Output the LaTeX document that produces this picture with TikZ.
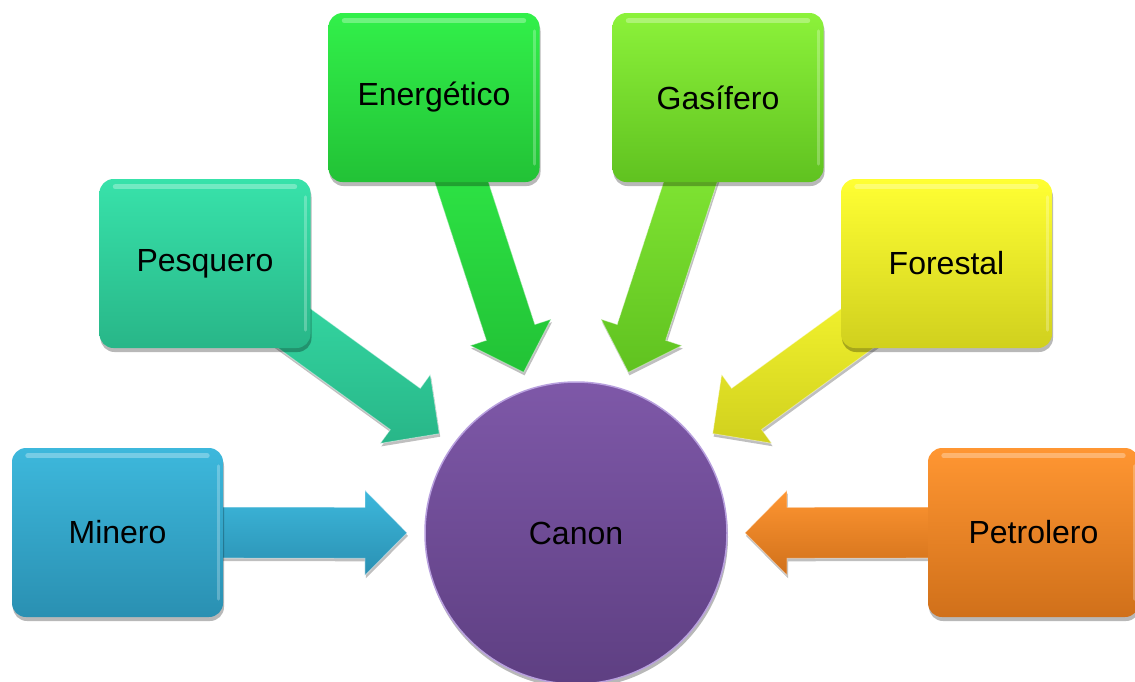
\documentclass[tikz,border=0pt]{standalone}
\usepackage{fontspec}
\setmainfont{Liberation Sans}
\usetikzlibrary{calc,shadows}
\pgfdeclarelayer{bg}
\pgfsetlayers{bg,main}
\definecolor{minTop}{HTML}{3DB8DC}\definecolor{minBot}{HTML}{2A90B2}
\definecolor{pesTop}{HTML}{38E2AA}\definecolor{pesBot}{HTML}{28B688}
\definecolor{eneTop}{HTML}{32F04A}\definecolor{eneBot}{HTML}{22C236}
\definecolor{gasTop}{HTML}{8CF23A}\definecolor{gasBot}{HTML}{60C220}
\definecolor{forTop}{HTML}{FFFF33}\definecolor{forBot}{HTML}{D0D01E}
\definecolor{petTop}{HTML}{FF9632}\definecolor{petBot}{HTML}{D0701A}
\definecolor{canTop}{HTML}{7E58A8}\definecolor{canBot}{HTML}{5E3F82}
\definecolor{canRim}{HTML}{B8A0DE}
\tikzset{
  sector/.style={rectangle, rounded corners=14pt, minimum width=211pt,
    minimum height=169pt, inner sep=0pt, text=black,
    font=\fontsize{32}{38}\selectfont,
    drop shadow={opacity=0.28, shadow xshift=1pt, shadow yshift=-4pt, fill=black}},
  hub/.style={circle, minimum size=302pt, inner sep=0pt, text=black,
    font=\fontsize{32}{38}\selectfont, top color=canTop, bottom color=canBot,
    draw=canRim, line width=1.5pt,
    drop shadow={opacity=0.28, shadow xshift=1pt, shadow yshift=-4pt, fill=black}},
  blockarr/.style={draw=white, draw opacity=0.45, line width=0.8pt, line join=miter,
    drop shadow={opacity=0.25, shadow xshift=1pt, shadow yshift=-3pt, fill=black}},
  glossline/.style={white, opacity=0.3, line width=5pt, line cap=round}
}
\newcommand\blockarrow[3]{%
  \coordinate (#1-t) at ($(canon.center)!169pt!(#1.center)$);
  \coordinate (#1-h) at ($(#1-t)!42pt!(#1.center)$);
  \path[blockarr, top color=#2, bottom color=#3]
    (#1-t) -- ($(#1-h)!42.5pt!90:(#1.center)$) -- ($(#1-h)!25.5pt!90:(#1.center)$)
    -- ($(#1.center)!25.5pt!-90:(#1-t)$) -- ($(#1.center)!25.5pt!90:(#1-t)$)
    -- ($(#1-h)!25.5pt!-90:(#1.center)$) -- ($(#1-h)!42.5pt!-90:(#1.center)$) -- cycle;
}
\newcommand\glossbox[1]{%
  \draw[glossline] ([xshift=16pt,yshift=-8pt]#1.north west) -- ([xshift=-16pt,yshift=-8pt]#1.north east);
  \draw[glossline, opacity=0.25, line width=3pt] ([xshift=-5pt,yshift=-18pt]#1.north east) -- ([xshift=-5pt,yshift=18pt]#1.south east);
}
\begin{document}
\begin{tikzpicture}[x=1pt,y=-1pt]
\useasboundingbox (0,0) rectangle (1135,681);
\node[hub] (canon) at (576,533) {Canon};
\node[sector, top color=minTop, bottom color=minBot] (min) at (117.5,532.5) {Minero};
\node[sector, top color=pesTop, bottom color=pesBot] (pes) at (205,263.5) {Pesquero};
\node[sector, top color=eneTop, bottom color=eneBot] (ene) at (434,97.5) {Energético};
\node[sector, top color=gasTop, bottom color=gasBot] (gas) at (718,97.5) {Gasífero};
\node[sector, top color=forTop, bottom color=forBot] (for) at (946.5,263.5) {Forestal};
\node[sector, top color=petTop, bottom color=petBot] (pet) at (1033.5,532.5) {Petrolero};
\glossbox{min}\glossbox{pes}\glossbox{ene}\glossbox{gas}\glossbox{for}\glossbox{pet}
\begin{pgfonlayer}{bg}
  \blockarrow{min}{minTop}{minBot}
  \blockarrow{pes}{pesTop}{pesBot}
  \blockarrow{ene}{eneTop}{eneBot}
  \blockarrow{gas}{gasTop}{gasBot}
  \blockarrow{for}{forTop}{forBot}
  \blockarrow{pet}{petTop}{petBot}
\end{pgfonlayer}
\end{tikzpicture}
\end{document}
